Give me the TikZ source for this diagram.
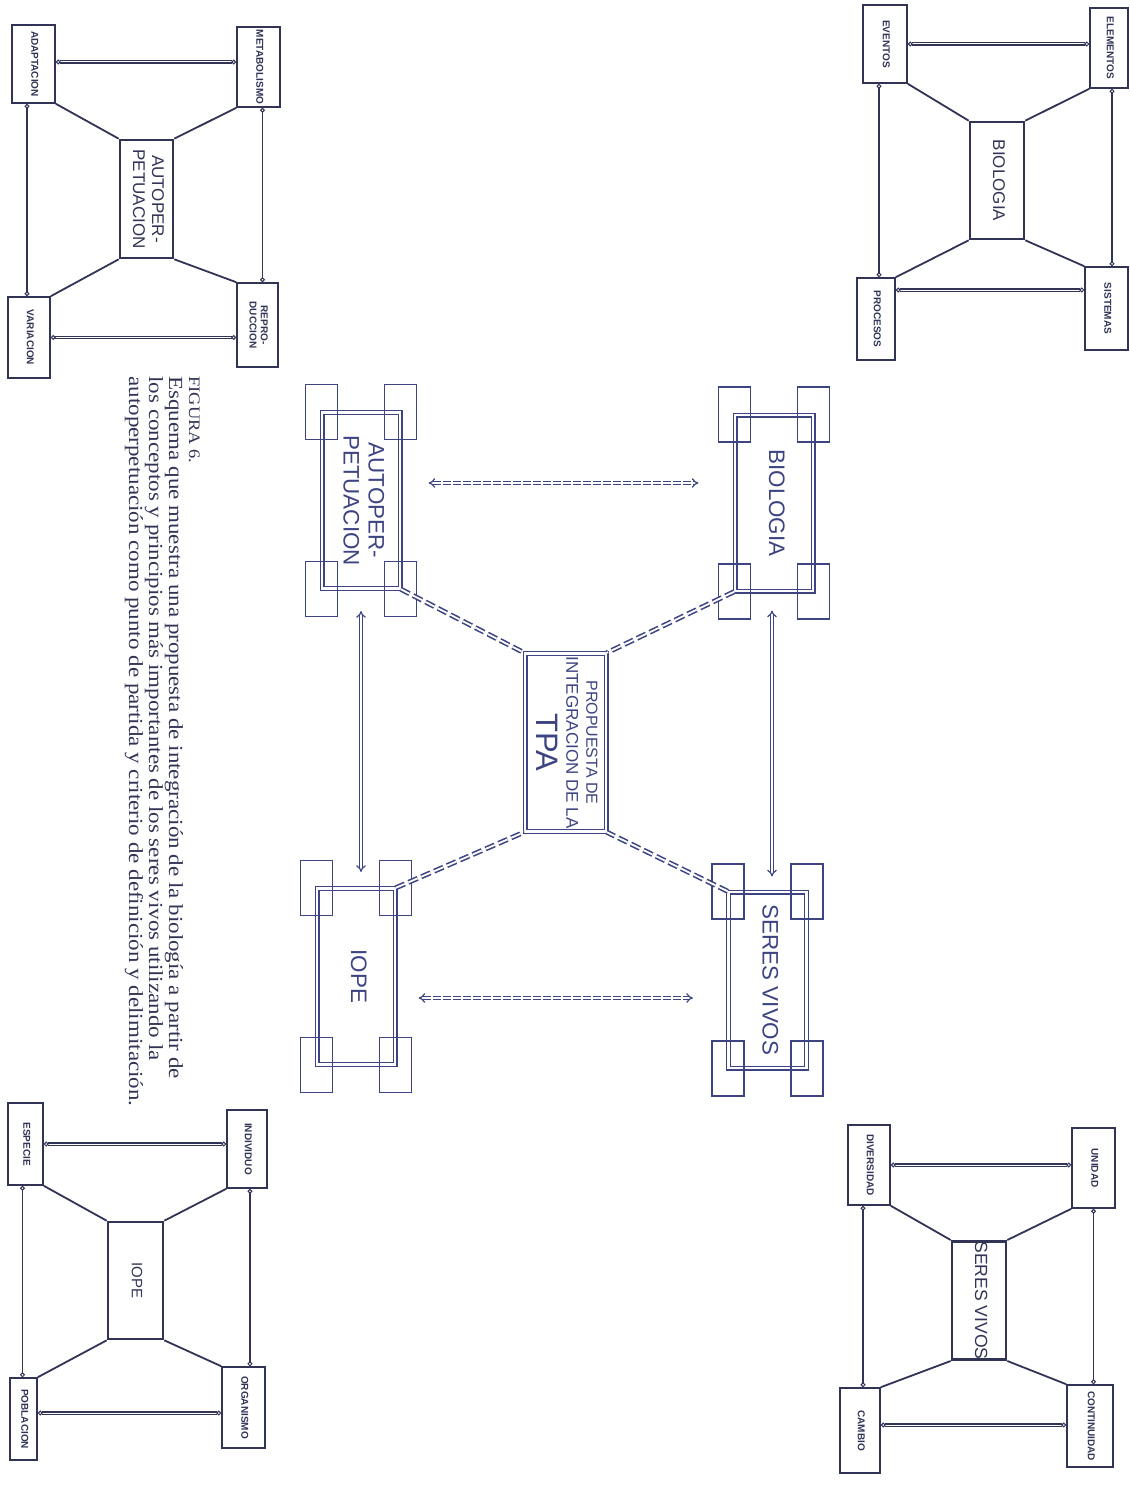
\documentclass[tikz,border=0pt]{standalone}
\usepackage{fontspec}
\setmainfont{Liberation Serif}
\setsansfont{Liberation Sans}
\usepackage{graphicx}
\usetikzlibrary{arrows.meta}
\definecolor{ink}{RGB}{62,68,130}
\definecolor{dark}{RGB}{50,52,86}
\newcommand{\vlabel}[1]{\rotatebox{-90}{\begin{tabular}{@{}c@{}}#1\end{tabular}}}
\tikzset{ring/.tip={Circle[open,length=2.4pt,width=2.4pt,line width=0.5pt]}}

\begin{document}
\begin{tikzpicture}[x=0.5pt,y=-0.5pt,
  bigbox/.style={draw=ink, double=white, double distance=1.3pt, line width=0.6pt,
    minimum width=39pt, minimum height=88pt, inner sep=0pt, text=ink,
    font=\sffamily\fontsize{11.2}{12.5}\selectfont},
  cornerbox/.style={draw=ink, line width=0.65pt, minimum width=16pt, minimum height=27.5pt, inner sep=0pt},
  mainlink/.style={draw=ink, double=white, double distance=1pt, line width=0.6pt, {Implies}-{Implies}},
  dashlink/.style={mainlink, dash pattern=on 4pt off 1pt},
  tpalink/.style={draw=ink, double=white, double distance=0.9pt, line width=0.8pt, dash pattern=on 5pt off 2pt},
  minictr/.style={draw=dark, line width=1.3pt, minimum width=27pt, minimum height=58.5pt, inner sep=0pt,
    text=dark, font=\sffamily\fontsize{8.5}{9.5}\selectfont},
  minibox/.style={draw=dark, line width=0.8pt, inner sep=0pt, text=dark,
    font=\sffamily\bfseries\fontsize{5}{5.6}\selectfont},
  spoke/.style={draw=dark, line width=0.9pt},
  hlink/.style={draw=dark, double=white, double distance=0.5pt, line width=0.55pt, ring-ring},
  vlink/.style={draw=dark, line width=0.6pt, ring-ring}]
\useasboundingbox (0,0) rectangle (1129,1487);
\fill[white] (0,0) rectangle (1129,1487);

% --- biologia (top right)
\node[minictr] (sbio) at (997,180.5) {\vlabel{BIOLOGIA}};
\node[minibox, minimum width=19pt, minimum height=40pt] (elem) at (1109,48) {\vlabel{ELEMENTOS}};
\node[minibox, minimum width=22pt, minimum height=39pt] (even) at (885,44) {\vlabel{EVENTOS}};
\node[minibox, minimum width=21.5pt, minimum height=41.5pt] (sist) at (1106.5,308.5) {\vlabel{SISTEMAS}};
\node[minibox, minimum width=19pt, minimum height=41pt] (proc) at (876,319) {\vlabel{PROCESOS}};
\draw[spoke] (sbio.north east) -- (elem.south west);
\draw[spoke] (sbio.north west) -- (even.south east);
\draw[spoke] (sbio.south west) -- (proc.north east);
\draw[spoke] (sbio.south east) -- (sist.north west);
\draw[hlink] (even.east) -- (even.east -| elem.west);
\draw[hlink] ([yshift=14.5pt]proc.east) -- ([yshift=14.5pt]proc.east -| sist.west);
\draw[vlink] ([xshift=1.5pt]elem.south) -- ([xshift=1.5pt]elem.south |- sist.north);
\draw[vlink] ([xshift=1.5pt]proc.north) -- ([xshift=1.5pt]proc.north |- even.south);

% --- autoperpetuacion (top left)
\node[minictr, minimum width=26.5pt, minimum height=59pt] (sauto) at (146.5,199) {\vlabel{AUTOPER-\\PETUACION}};
\node[minibox, minimum width=21.5pt, minimum height=40pt] (meta) at (258.5,67) {\vlabel{METABOLISMO}};
\node[minibox, minimum width=21.5pt, minimum height=39pt] (adap) at (33.5,64) {\vlabel{ADAPTACION}};
\node[minibox, minimum width=20.5pt, minimum height=42pt] (repro) at (257.5,325) {\vlabel{REPRO-\\DUCCION}};
\node[minibox, minimum width=21pt, minimum height=40.5pt] (vari) at (29,337.5) {\vlabel{VARIACION}};
\draw[spoke] (sauto.north east) -- (meta.south west);
\draw[spoke] (sauto.north west) -- (adap.south east);
\draw[spoke] (sauto.south west) -- (vari.north east);
\draw[spoke] (sauto.south east) -- (repro.north west);
\draw[hlink] ([yshift=1pt]adap.east) -- ([yshift=1pt]adap.east -| meta.west);
\draw[hlink] (vari.east) -- (vari.east -| repro.west);
\draw[vlink] ([xshift=2pt]meta.south) -- ([xshift=2pt]meta.south |- repro.north);
\draw[vlink] ([xshift=-1pt]vari.north) -- ([xshift=-1pt]vari.north |- adap.south);

% --- seres vivos (bottom right)
\node[minictr, font=\sffamily\fontsize{8.8}{9.5}\selectfont] (sseres) at (979,1300.5) {\vlabel{SERES VIVOS}};
\node[minibox, minimum width=21.5pt, minimum height=40pt] (unid) at (1093.5,1168) {\vlabel{UNIDAD}};
\node[minibox, minimum width=21pt, minimum height=40pt] (dive) at (869,1165) {\vlabel{DIVERSIDAD}};
\node[minibox, minimum width=23pt, minimum height=41pt] (cont) at (1090,1426) {\vlabel{CONTINUIDAD}};
\node[minibox, minimum width=20pt, minimum height=42.5pt] (camb) at (860,1430.5) {\vlabel{CAMBIO}};
\draw[spoke] (sseres.north east) -- (unid.south west);
\draw[spoke] (sseres.north west) -- (dive.south east);
\draw[spoke] (sseres.south west) -- (camb.north east);
\draw[spoke] (sseres.south east) -- (cont.north west);
\draw[hlink] (dive.east) -- (dive.east -| unid.west);
\draw[hlink] ([yshift=2.75pt]camb.east) -- ([yshift=2.75pt]camb.east -| cont.west);
\draw[vlink] (unid.south) -- (unid.south |- cont.north);
\draw[vlink] ([xshift=-3pt]dive.south) -- ([xshift=-3pt]dive.south |- camb.north);

% --- iope (bottom left)
\node[minictr, minimum width=27.5pt, font=\sffamily\fontsize{7.5}{9}\selectfont] (siope) at (135.5,1280.5) {\vlabel{IOPE}};
\node[minibox, minimum width=20pt, minimum height=39pt] (indi) at (247,1149) {\vlabel{INDIVIDUO}};
\node[minibox, minimum width=17.5pt, minimum height=41pt] (espe) at (25.5,1144) {\vlabel{ESPECIE}};
\node[minibox, minimum width=21.5pt, minimum height=40.5pt] (orga) at (243.5,1407.5) {\vlabel{ORGANISMO}};
\node[minibox, minimum width=13.5pt, minimum height=41pt] (pobl) at (23.5,1419) {\vlabel{POBLACION}};
\draw[spoke] (siope.north east) -- (indi.south west);
\draw[spoke] (siope.north west) -- (espe.south east);
\draw[spoke] (siope.south west) -- (pobl.north east);
\draw[spoke] (siope.south east) -- (orga.north west);
\draw[hlink] (espe.east) -- (espe.east -| indi.west);
\draw[hlink] ([yshift=3pt]pobl.east) -- ([yshift=3pt]pobl.east -| orga.west);
\draw[vlink] ([xshift=1.5pt]indi.south) -- ([xshift=1.5pt]indi.south |- orga.north);
\draw[vlink] ([xshift=-1.5pt]espe.south) -- ([xshift=-1.5pt]espe.south |- pobl.north);

% --- propuesta de integracion (centre)
\node[bigbox] (bio) at (774,503) {\vlabel{BIOLOGIA}};
\node[bigbox] (auto) at (361,500.5) {\vlabel{AUTOPER-\\PETUACION}};
\node[bigbox] (seres) at (767.5,980) {\vlabel{SERES VIVOS}};
\node[bigbox] (iope) at (356,976.5) {\vlabel{IOPE}};
\node[bigbox, minimum width=40.5pt, minimum height=89pt, font=\sffamily\fontsize{8}{10}\selectfont] (tpa) at (565.5,742.5)
  {\vlabel{PROPUESTA DE\\ \fontsize{8.5}{10}\selectfont INTEGRACION DE LA\\[1.3pt] \fontsize{15.5}{15}\selectfont TPA}};
\foreach \b in {bio,auto,seres,iope}
  \foreach \c/\n in {north west/nw,north east/ne,south west/sw,south east/se}
    \node[cornerbox] (\b-\n) at (\b.\c) {};

\draw[dashlink, shorten <=14pt, shorten >=18pt] ([yshift=8.75pt]auto.east) -- ([yshift=8.75pt]auto.east -| bio.west);
\draw[dashlink, shorten <=11.5pt, shorten >=17.5pt] ([yshift=-10.75pt]iope.east) -- ([yshift=-10.75pt]iope.east -| seres.west);
\draw[mainlink, shorten <=11pt, shorten >=8pt] (auto.south) -- (auto.south |- iope.north);
\draw[mainlink, shorten <=9.5pt, shorten >=7.5pt] ([xshift=-1pt]bio.south) -- ([xshift=-1pt]bio.south |- seres.north);
\draw[tpalink] (auto.south east) -- (tpa.north west);
\draw[tpalink] (bio.south west) -- (tpa.north east);
\draw[tpalink] (iope.north east) -- (tpa.south west);
\draw[tpalink] (seres.north west) -- (tpa.south east);

% --- caption
\node[rotate=-90, xscale=1.15, anchor=north west, align=left, inner sep=0pt, text=dark,
  font=\fontsize{10}{10}\selectfont] (caption) at (200,376)
  {\fontsize{8}{10}\selectfont FIGURA 6.\\
   Esquema que muestra una propuesta de integración de la biología a partir de\\
   los conceptos y principios más importantes de los seres vivos utilizando la\\
   autoperpetuación como punto de partida y criterio de definición y delimitación.};
\end{tikzpicture}
\end{document}
